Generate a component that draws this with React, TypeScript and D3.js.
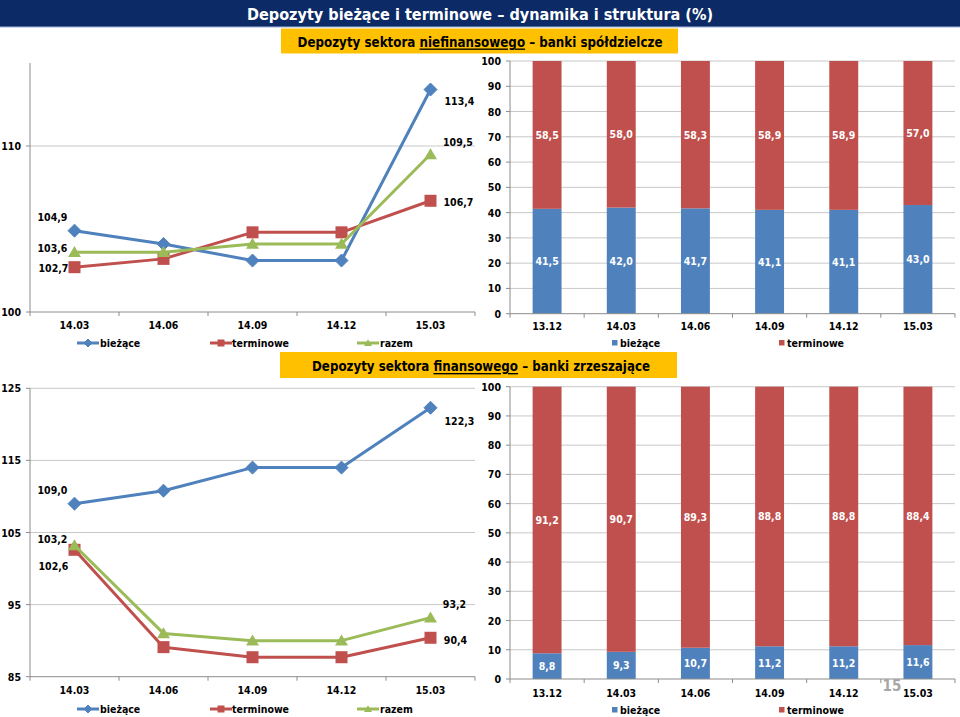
import React from "react";
import * as d3 from "d3";

// ---------- DATA ----------
const lineCats = ["14.03", "14.06", "14.09", "14.12", "15.03"];
const nfBiezace = [104.9, 104.1, 103.1, 103.1, 113.4];
const nfTerminowe = [102.7, 103.2, 104.8, 104.8, 106.7];
const nfRazem = [103.6, 103.6, 104.1, 104.1, 109.5];
const fBiezace = [109.0, 110.8, 114.0, 114.0, 122.3];
const fTerminowe = [102.6, 89.1, 87.7, 87.7, 90.4];
const fRazem = [103.2, 91.0, 90.0, 90.0, 93.2];

const barCats = ["13.12", "14.03", "14.06", "14.09", "14.12", "15.03"];
const nfShareBiezace = [41.5, 42.0, 41.7, 41.1, 41.1, 43.0];
const nfShareTerminowe = [58.5, 58.0, 58.3, 58.9, 58.9, 57.0];
const fShareBiezace = [8.8, 9.3, 10.7, 11.2, 11.2, 11.6];
const fShareTerminowe = [91.2, 90.7, 89.3, 88.8, 88.8, 88.4];

const nfLineTicks = [100, 110];
const fLineTicks = [85, 95, 105, 115, 125];
const barTicks = [0, 10, 20, 30, 40, 50, 60, 70, 80, 90, 100];

const seriesNames = ["bieżące", "terminowe", "razem"];

// ---------- STYLE ----------
const FONT = "'DejaVu Sans Condensed', 'DejaVu Sans', sans-serif";
const BLUE = "#4F81BD";
const RED = "#C0504D";
const GREEN = "#9BBB59";
const GRID = "#C8C8C8";
const AXIS = "#8C8C8C";
const COLORS = [BLUE, RED, GREEN];

const fmt = (v: number) => v.toFixed(1).replace(".", ",");

type Marker = "diamond" | "square" | "triangle";
const MARKERS: Marker[] = ["diamond", "square", "triangle"];

function MarkerShape({ kind, x, y, s, color }: { kind: Marker; x: number; y: number; s: number; color: string }) {
  if (kind === "diamond") {
    const h = s / 2;
    return <path d={`M${x},${y - h}L${x + h},${y}L${x},${y + h}L${x - h},${y}Z`} fill={color} stroke={color} strokeWidth={1} />;
  }
  if (kind === "square") {
    const h = s / 2 - 0.5;
    return <rect x={x - h} y={y - h} width={2 * h} height={2 * h} fill={color} />;
  }
  const h = s / 2;
  return <path d={`M${x},${y - h * 0.95}L${x + h},${y + h * 0.75}L${x - h},${y + h * 0.75}Z`} fill={color} />;
}

type LabelOff = { series: number; idx: number; dx: number; dy: number };

function LineChart(props: {
  x0: number; x1: number; yTop: number; yBot: number;
  domain: [number, number]; ticks: number[]; series: number[][];
  labels: LabelOff[]; xLabelY: number; legendY: number; gridTop: boolean;
}) {
  const { x0, x1, yTop, yBot, domain, ticks, series, labels, xLabelY, legendY, gridTop } = props;
  const x = d3.scaleBand<string>().domain(lineCats).range([x0, x1]).padding(0);
  const y = d3.scaleLinear().domain(domain).range([yBot, yTop]);
  const cx = (c: string) => (x(c) as number) + x.bandwidth() / 2;
  const line = d3.line<number>().x((_, i) => cx(lineCats[i])).y((v) => y(v));
  const bounds = lineCats.map((c) => x(c) as number).concat([x1]);
  const legendX = [
    { lx: 77, tx: 100 },
    { lx: 210, tx: 232 },
    { lx: 357, tx: 380 },
  ];
  return (
    <g fontFamily={FONT} fontWeight="bold">
      {ticks.filter((t) => t !== domain[0]).map((t) => (
        <line key={t} x1={x0} x2={x1} y1={y(t)} y2={y(t)} stroke={GRID} strokeWidth={1} />
      ))}
      {gridTop && !ticks.includes(domain[1]) ? null : null}
      <line x1={x0} x2={x0} y1={yTop} y2={yBot} stroke={AXIS} strokeWidth={1} />
      <line x1={x0} x2={x1} y1={yBot} y2={yBot} stroke={AXIS} strokeWidth={1} />
      {ticks.map((t) => (
        <g key={t}>
          <line x1={x0 - 4} x2={x0} y1={y(t)} y2={y(t)} stroke={AXIS} />
          <text x={x0 - 9} y={y(t)} textAnchor="end" dominantBaseline="central" fontSize={10.5} fill="#000">{t}</text>
        </g>
      ))}
      {bounds.map((b, i) => (
        <line key={i} x1={b} x2={b} y1={yBot} y2={yBot + 4} stroke={AXIS} />
      ))}
      {lineCats.map((c) => (
        <text key={c} x={cx(c)} y={xLabelY} textAnchor="middle" dominantBaseline="central" fontSize={10.5} fill="#000">{c}</text>
      ))}
      {series.map((s, si) => (
        <g key={si}>
          <path d={line(s) as string} fill="none" stroke={COLORS[si]} strokeWidth={3} strokeLinejoin="round" />
          {s.map((v, i) => (
            <MarkerShape key={i} kind={MARKERS[si]} x={cx(lineCats[i])} y={y(v)} s={13} color={COLORS[si]} />
          ))}
        </g>
      ))}
      {labels.map((l, i) => {
        const v = series[l.series][l.idx];
        return (
          <text key={i} x={cx(lineCats[l.idx]) + l.dx} y={y(v) + l.dy} textAnchor="middle" dominantBaseline="central" fontSize={10.5} fill="#000">
            {fmt(v)}
          </text>
        );
      })}
      {seriesNames.map((n, si) => (
        <g key={n}>
          <line x1={legendX[si].lx} x2={legendX[si].lx + 22} y1={legendY} y2={legendY} stroke={COLORS[si]} strokeWidth={3} />
          <MarkerShape kind={MARKERS[si]} x={legendX[si].lx + 11} y={legendY} s={8} color={COLORS[si]} />
          <text x={legendX[si].tx} y={legendY} dominantBaseline="central" fontSize={10.5} fill="#000">{n}</text>
        </g>
      ))}
    </g>
  );
}

function BarChart(props: {
  x0: number; x1: number; yTop: number; yBot: number;
  a: number[]; b: number[]; xLabelY: number; legendY: number;
}) {
  const { x0, x1, yTop, yBot, a, b, xLabelY, legendY } = props;
  const x = d3.scaleBand<string>().domain(barCats).range([x0, x1]).padding(0);
  const y = d3.scaleLinear().domain([0, 100]).range([yBot, yTop]);
  const bw = x.bandwidth() * 0.39;
  const cx = (c: string) => (x(c) as number) + x.bandwidth() / 2;
  const stack = d3.stack<number>().keys(["a", "b"]).value((i, k) => (k === "a" ? a[i] : b[i]));
  const layers = stack(d3.range(barCats.length));
  const bounds = barCats.map((c) => x(c) as number).concat([x1]);
  return (
    <g fontFamily={FONT} fontWeight="bold">
      {barTicks.filter((t) => t > 0).map((t) => (
        <line key={t} x1={x0} x2={x1} y1={y(t)} y2={y(t)} stroke={GRID} strokeWidth={1} />
      ))}
      <line x1={x0} x2={x0} y1={yTop} y2={yBot} stroke={AXIS} />
      {barTicks.map((t) => (
        <g key={t}>
          <line x1={x0 - 4} x2={x0} y1={y(t)} y2={y(t)} stroke={AXIS} />
          <text x={x0 - 9} y={y(t)} textAnchor="end" dominantBaseline="central" fontSize={10.5} fill="#000">{t}</text>
        </g>
      ))}
      {layers.map((layer, li) => (
        <g key={li}>
          {layer.map((d, i) => (
            <rect key={i} x={cx(barCats[i]) - bw / 2} y={y(d[1])} width={bw} height={y(d[0]) - y(d[1])} fill={li === 0 ? BLUE : RED} />
          ))}
          {layer.map((d, i) => (
            <text key={"t" + i} x={cx(barCats[i])} y={(y(d[0]) + y(d[1])) / 2} textAnchor="middle" dominantBaseline="central" fontSize={10.5} fill="#fff">
              {fmt(d[1] - d[0])}
            </text>
          ))}
        </g>
      ))}
      <line x1={x0} x2={x1} y1={yBot} y2={yBot} stroke={AXIS} />
      {bounds.map((bx, i) => (
        <line key={i} x1={bx} x2={bx} y1={yBot} y2={yBot + 4} stroke={AXIS} />
      ))}
      {barCats.map((c) => (
        <text key={c} x={cx(c)} y={xLabelY} textAnchor="middle" dominantBaseline="central" fontSize={10.5} fill="#000">{c}</text>
      ))}
      <rect x={612} y={legendY - 3} width={5.5} height={5.5} fill={BLUE} />
      <text x={620} y={legendY} dominantBaseline="central" fontSize={10.5} fill="#000">{seriesNames[0]}</text>
      <rect x={779} y={legendY - 3} width={5.5} height={5.5} fill={RED} />
      <text x={787} y={legendY} dominantBaseline="central" fontSize={10.5} fill="#000">{seriesNames[1]}</text>
    </g>
  );
}

const nfLabels: LabelOff[] = [
  { series: 0, idx: 0, dx: -22, dy: -14 },
  { series: 2, idx: 0, dx: -22, dy: -4 },
  { series: 1, idx: 0, dx: -21, dy: 1 },
  { series: 0, idx: 4, dx: 29, dy: 11 },
  { series: 2, idx: 4, dx: 27.5, dy: -12 },
  { series: 1, idx: 4, dx: 28, dy: 1 },
];
const fLabels: LabelOff[] = [
  { series: 0, idx: 0, dx: -22, dy: -14 },
  { series: 2, idx: 0, dx: -22, dy: -6 },
  { series: 1, idx: 0, dx: -21, dy: 16 },
  { series: 0, idx: 4, dx: 29, dy: 13 },
  { series: 2, idx: 4, dx: 24, dy: -14 },
  { series: 1, idx: 4, dx: 25, dy: 2 },
];

export default function App() {
  return (
    <svg width={960} height={717} style={{ position: "absolute", left: 0, top: 0, background: "#fff" }} fontFamily={FONT}>
      <rect x={0} y={0} width={960} height={717} fill="#fff" />
      {/* Title bar */}
      <rect x={0} y={0} width={960} height={27} fill="#0B2A66" />
      <line x1={0} x2={960} y1={27} y2={27} stroke="#9DB3D9" strokeWidth={1.2} />
      <text x={480} y={14.5} textAnchor="middle" dominantBaseline="central" fill="#fff" fontWeight="bold" fontSize={16} textLength={466} lengthAdjust="spacingAndGlyphs">
        Depozyty bieżące i terminowe – dynamika i struktura (%)
      </text>
      {/* Subtitle 1 */}
      <rect x={281} y={28.5} width={397} height={25} fill="#FFC000" />
      <text x={480} y={41.5} textAnchor="middle" dominantBaseline="central" fill="#000" fontWeight="bold" fontSize={13.5} textLength={365} lengthAdjust="spacingAndGlyphs">
        Depozyty sektora <tspan textDecoration="underline">niefinansowego</tspan> – banki spółdzielcze
      </text>
      {/* Subtitle 2 */}
      <rect x={280} y={352} width={397} height={26} fill="#FFC000" />
      <text x={481} y={366} textAnchor="middle" dominantBaseline="central" fill="#000" fontWeight="bold" fontSize={13.5} textLength={338} lengthAdjust="spacingAndGlyphs">
        Depozyty sektora <tspan textDecoration="underline">finansowego</tspan> – banki zrzeszające
      </text>

      <LineChart x0={30} x1={475} yTop={63} yBot={312} domain={[100, 115]} ticks={nfLineTicks}
        series={[nfBiezace, nfTerminowe, nfRazem]} labels={nfLabels} xLabelY={325} legendY={343} gridTop={false} />
      <LineChart x0={30} x1={475} yTop={388.3} yBot={676.7} domain={[85, 125]} ticks={fLineTicks}
        series={[fBiezace, fTerminowe, fRazem]} labels={fLabels} xLabelY={690} legendY={709} gridTop={true} />

      <BarChart x0={510} x1={955} yTop={61} yBot={313.7} a={nfShareBiezace} b={nfShareTerminowe} xLabelY={326} legendY={343} />
      <BarChart x0={510} x1={955} yTop={386.7} yBot={679} a={fShareBiezace} b={fShareTerminowe} xLabelY={693} legendY={710} />

      <text x={892} y={686} textAnchor="middle" dominantBaseline="central" fill="#A6A6A6" fontWeight="bold" fontSize={15}>15</text>
    </svg>
  );
}
